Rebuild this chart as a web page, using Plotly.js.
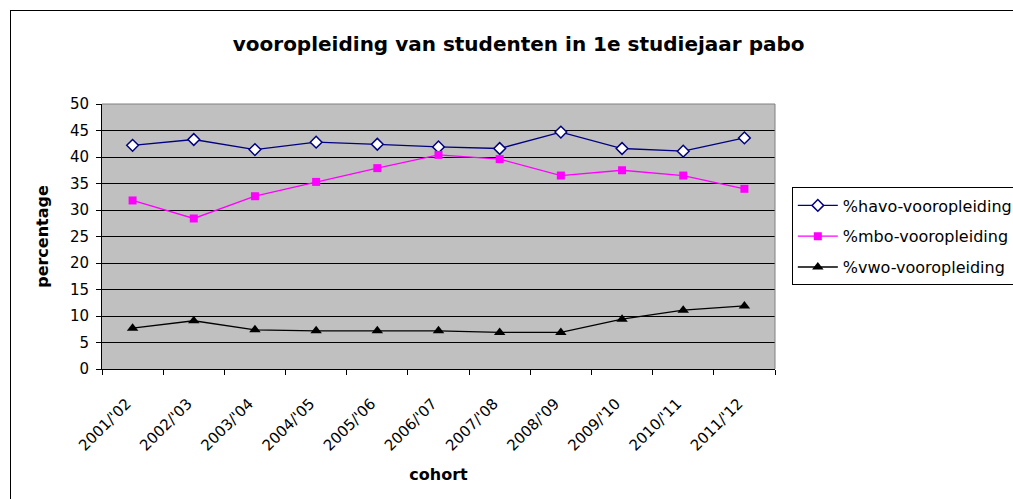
<!DOCTYPE html>
<html>
<head>
<meta charset="utf-8">
<script src="https://cdn.plot.ly/plotly-3.0.1.min.js"></script>
<style>
  html, body { margin: 0; padding: 0; background: #fff; overflow: hidden; }
  #chart { width: 1013px; height: 499px; }
  #frame { position: absolute; left: 10px; top: 10px; width: 1100px; height: 600px;
           border: 1px solid #000; pointer-events: none; }
</style>
</head>
<body>
<div id="chart"></div>
<div id="frame"></div>
<script>
const cohorts = ["2001/'02","2002/'03","2003/'04","2004/'05","2005/'06","2006/'07","2007/'08","2008/'09","2009/'10","2010/'11","2011/'12"];
const havo = [42.2, 43.3, 41.4, 42.8, 42.4, 41.9, 41.6, 44.7, 41.6, 41.1, 43.6];
const mbo  = [31.8, 28.4, 32.6, 35.3, 37.9, 40.4, 39.6, 36.5, 37.5, 36.5, 34.0];
const vwo  = [7.7, 9.1, 7.4, 7.2, 7.2, 7.2, 6.9, 6.9, 9.4, 11.1, 11.9];

const font = "DejaVu Sans, Liberation Sans, Arial, sans-serif";

const traces = [
  { x: cohorts, y: havo, name: "%havo-vooropleiding", type: "scatter", mode: "lines+markers",
    legendgroup: "a",
    line: { color: "#000080", width: 1.3 },
    marker: { symbol: "diamond", size: 9, color: "#ffffff", line: { color: "#000080", width: 1.5 } } },
  { x: cohorts, y: mbo, name: "%mbo-vooropleiding", type: "scatter", mode: "lines+markers",
    legendgroup: "b",
    line: { color: "#FF00FF", width: 1.3 },
    marker: { symbol: "square", size: 8, color: "#FF00FF" } },
  { x: cohorts, y: vwo, name: "%vwo-vooropleiding", type: "scatter", mode: "lines+markers",
    legendgroup: "c",
    line: { color: "#000000", width: 1.3 },
    marker: { symbol: "triangle-up", size: 10, color: "#000000" } }
];

const layout = {
  width: 1013, height: 499,
  margin: { l: 102, r: 238, t: 104, b: 130, autoexpand: false },
  paper_bgcolor: "#ffffff",
  plot_bgcolor: "#C0C0C0",
  font: { family: font, size: 15, color: "#000" },
  title: { text: "<b>vooropleiding van studenten in 1e studiejaar pabo</b>",
           font: { family: font, size: 20, color: "#000" },
           x: 0.512, xref: "container", xanchor: "center",
           y: 0.912, yref: "container", yanchor: "middle" },
  xaxis: {
    type: "category",
    tickson: "boundaries",
    ticks: "outside", ticklen: 5, tickcolor: "#000", tickwidth: 1,
    tickangle: -45,
    ticklabelstandoff: 19,
    ticklabelshift: -6,
    tickfont: { family: font, size: 15, color: "#000" },
    showline: true, linecolor: "#000", linewidth: 1,
    showgrid: false, zeroline: false,
    range: [-0.5, 10.5],
    title: { text: "<b>cohort</b>", font: { family: font, size: 16, color: "#000" }, standoff: 15 }
  },
  yaxis: {
    range: [0, 50], dtick: 5, tick0: 0,
    ticks: "outside", ticklen: 5, tickcolor: "#000", tickwidth: 1,
    ticklabelstandoff: 4,
    tickfont: { family: font, size: 15, color: "#000" },
    showline: true, linecolor: "#000", linewidth: 1,
    showgrid: true, gridcolor: "#000", gridwidth: 1,
    zeroline: false,
    title: { text: "<b>percentage</b>", font: { family: font, size: 16, color: "#000" }, standoff: 17 }
  },
  shapes: [
    { type: "line", xref: "paper", yref: "paper", x0: 0, x1: 1, y0: 1, y1: 1, line: { color: "#808080", width: 1 } },
    { type: "line", xref: "paper", yref: "paper", x0: 1, x1: 1, y0: 0, y1: 1, line: { color: "#808080", width: 1 } }
  ],
  showlegend: true,
  legend: {
    x: 1.025, xanchor: "left", y: 0.685, yanchor: "top",
    bordercolor: "#000", borderwidth: 1, bgcolor: "#ffffff",
    font: { family: font, size: 16, color: "#000" },
    itemwidth: 40,
    traceorder: "grouped", tracegroupgap: 7
  }
};

Plotly.newPlot("chart", traces, layout, { displayModeBar: false, staticPlot: true });
</script>
</body>
</html>
